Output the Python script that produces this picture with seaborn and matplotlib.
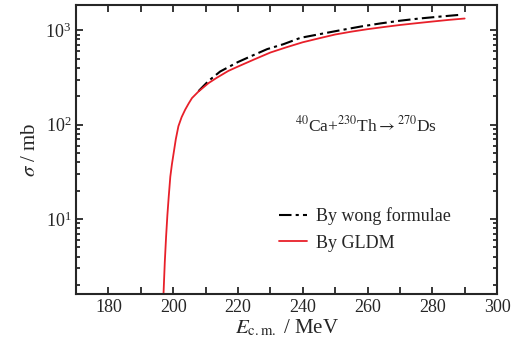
import seaborn as sns
import matplotlib.pyplot as plt
import pandas as pd
from matplotlib.ticker import MultipleLocator, LogLocator, NullFormatter

# Werte
e_gldm = [197.0, 197.4, 197.8, 198.2, 198.6, 199.1, 199.6, 200.1, 200.8, 201.6,
          202.6, 203.7, 204.8, 205.8, 207.8, 210.9, 213.5, 217.0, 220.0, 225.0,
          230.0, 235.0, 240.0, 245.0, 250.0, 255.0, 260.0, 265.0, 270.0, 275.0,
          280.0, 285.0, 290.0]
sigma_gldm = [1.6, 3.5, 6.5, 11, 17, 28, 38, 49, 70, 96,
              120, 144, 168, 191, 224, 275, 314, 370, 412, 490,
              580, 660, 745, 820, 900, 965, 1025, 1080, 1135, 1185,
              1235, 1285, 1330]

e_wong = [207.8, 210.9, 214.5, 220.0, 224.0, 229.0, 234.0, 239.3, 245.0, 251.7,
          258.0, 264.0, 270.0, 276.0, 282.0, 288.0]
sigma_wong = [226, 290, 365, 460, 530, 630, 710, 830, 905, 1000,
              1095, 1180, 1260, 1330, 1390, 1450]

x_ticks = [180, 200, 220, 240, 260, 280, 300]

sns.set_style("ticks")
plt.rcParams["font.family"] = ["Liberation Serif", "DejaVu Serif"]
plt.rcParams["mathtext.fontset"] = "stix"

df_wong = pd.DataFrame({"E": e_wong, "sigma": sigma_wong})
df_gldm = pd.DataFrame({"E": e_gldm, "sigma": sigma_gldm})

fig = plt.figure(figsize=(5.14, 3.56), dpi=100)
ax = fig.add_axes([0.148, 0.174, 0.819, 0.812])

sns.lineplot(data=df_wong, x="E", y="sigma", ax=ax, color="black",
             linestyle=(0, (6, 2, 1.5, 2)), linewidth=1.5, label="By wong formulae")
sns.lineplot(data=df_gldm, x="E", y="sigma", ax=ax, color="#e8202a",
             linewidth=1.3, label="By GLDM")

ax.set_yscale("log")
ax.set_xlim(170, 300)
ax.set_ylim(1.6, 1850)
ax.set_xticks(x_ticks)
ax.xaxis.set_minor_locator(MultipleLocator(10))
ax.yaxis.set_major_locator(LogLocator(base=10, numticks=10))
ax.yaxis.set_minor_locator(LogLocator(base=10, subs=range(2, 10), numticks=20))
ax.yaxis.set_minor_formatter(NullFormatter())

ax.tick_params(which="both", direction="in", top=True, right=True, width=1.3,
               labelsize=13)
ax.tick_params(which="major", length=5)
ax.tick_params(which="minor", length=3)
ax.tick_params(axis="x", which="minor", length=5)
for sp in ax.spines.values():
    sp.set_linewidth(1.5)

ax.set_xlabel(r"$E_{\mathrm{c.m.}}$ / MeV", fontsize=15, labelpad=1)
ax.set_ylabel(r"$\sigma$ / mb", fontsize=15)

ax.text(0.52, 0.585, r"$^{40}$Ca+$^{230}$Th$\rightarrow$$^{270}$Ds",
        transform=ax.transAxes, fontsize=12.5, va="center")

leg = ax.legend(loc="lower right", bbox_to_anchor=(0.93, 0.09), frameon=False,
                fontsize=13, handlelength=1.6, handletextpad=0.5, labelspacing=0.55)

plt.savefig("out.png", dpi=100)
